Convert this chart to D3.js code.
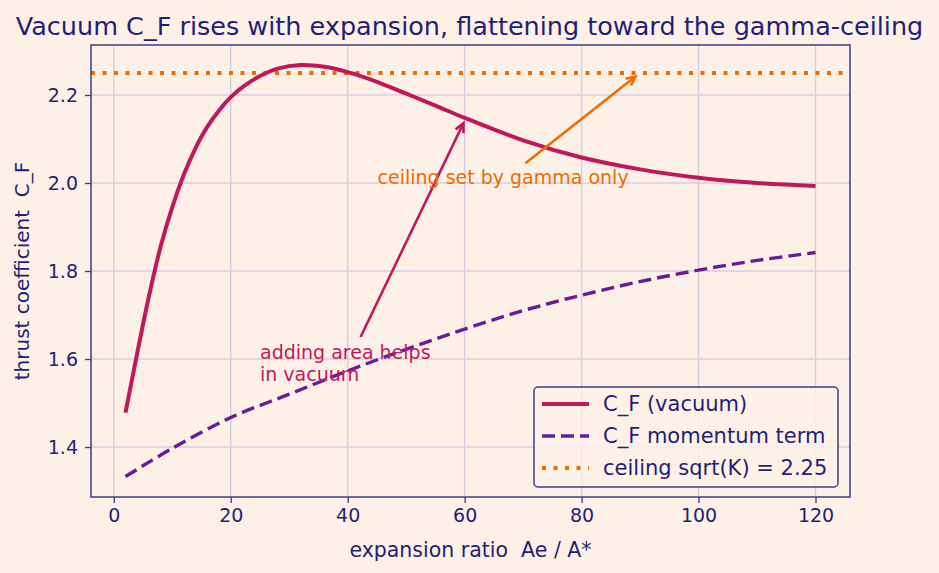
<!DOCTYPE html>
<html>
<head>
<meta charset="utf-8">
<script src="https://cdn.jsdelivr.net/npm/d3@7"></script>
<style>
  body { margin: 0; background: #fdf1e7; }
  svg { display: block; font-family: "DejaVu Sans", sans-serif; }
</style>
</head>
<body>
<div id="chart"></div>
<script>
/* DATA */
const vacX = [2, 4, 6, 8, 10, 12, 14, 16, 18, 20, 22, 25, 28, 32, 36, 40, 45, 50, 55, 60, 70, 80, 90, 100, 110, 120];
const vacY = [1.478, 1.613, 1.742, 1.855, 1.945, 2.02, 2.08, 2.128, 2.165, 2.195, 2.218, 2.243, 2.26, 2.268, 2.264, 2.252, 2.23, 2.203, 2.176, 2.148, 2.097, 2.058, 2.031, 2.012, 2.0, 1.993];
const momX = [2, 10, 20, 30, 40, 50, 60, 70, 80, 90, 100, 110, 120];
const momY = [1.333, 1.397, 1.467, 1.52, 1.573, 1.622, 1.668, 1.71, 1.745, 1.776, 1.802, 1.824, 1.842];
const ceiling = 2.25;
const xTicks = [0, 20, 40, 60, 80, 100, 120];
const yTicks = [1.4, 1.6, 1.8, 2.0, 2.2];
const legendLabels = ["C_F (vacuum)", "C_F momentum term", "ceiling sqrt(K) = 2.25"];
// annotations: text lines, text anchor (data), arrow start and tip (data)
const notes = [
  { lines: ["adding area helps", "in vacuum"], tx: 25, ty: 1.55, sx: 42.2, sy: 1.65, ex: 59.8, ey: 2.136, color: "#c2185b" },
  { lines: ["ceiling set by gamma only"], tx: 45.1, ty: 1.997, sx: 70.4, sy: 2.045, ex: 89.2, ey: 2.242, color: "#ef6c00" }
];

/* CONSTANTS */
const width = 939, height = 573;
const margin = { top: 45, bottom: 76, left: 91, right: 89 };
const ink = "#1f1f75", spine = "#3b3b86", gridCol = "#dacbe0";
const red = "#c2185b", purple = "#6a1b9a", orange = "#ef6c00";

const svg = d3.select("#chart").append("svg")
  .attr("width", width)
  .attr("height", height);

svg.append("rect").attr("width", width).attr("height", height).attr("fill", "#fdf1e7");

const xScale = d3.scaleLinear()
  .domain([-3.9, 125.9])
  .range([margin.left, width - margin.right]);

const yScale = d3.scaleLinear()
  .domain([1.2864, 2.3136])
  .range([height - margin.bottom, margin.top]);

// grid
svg.append("g").selectAll("line").data(xTicks).join("line")
  .attr("x1", d => xScale(d)).attr("x2", d => xScale(d))
  .attr("y1", margin.top).attr("y2", height - margin.bottom)
  .attr("stroke", gridCol).attr("stroke-width", 1.4);
svg.append("g").selectAll("line").data(yTicks).join("line")
  .attr("y1", d => yScale(d)).attr("y2", d => yScale(d))
  .attr("x1", margin.left).attr("x2", width - margin.right)
  .attr("stroke", gridCol).attr("stroke-width", 1.4);

// axes
const xAxis = d3.axisBottom(xScale).tickValues(xTicks).tickFormat(d3.format("d")).tickSize(6).tickPadding(6);
const yAxis = d3.axisLeft(yScale).tickValues(yTicks).tickFormat(d3.format(".1f")).tickSize(6).tickPadding(7);

const gx = svg.append("g")
  .attr("transform", `translate(0, ${height - margin.bottom})`)
  .call(xAxis);
const gy = svg.append("g")
  .attr("transform", `translate(${margin.left}, 0)`)
  .call(yAxis);
[gx, gy].forEach(g => {
  g.select(".domain").remove();
  g.selectAll("line").attr("stroke", spine).attr("stroke-width", 1.3);
  g.selectAll("text").attr("fill", ink).attr("font-size", 19).attr("font-family", "DejaVu Sans");
});

// lines
const line = d3.line()
  .x(d => xScale(d[0]))
  .y(d => yScale(d[1]))
  .curve(d3.curveCatmullRom);

svg.append("line")
  .attr("x1", margin.left).attr("x2", width - margin.right)
  .attr("y1", yScale(ceiling)).attr("y2", yScale(ceiling))
  .attr("stroke", orange).attr("stroke-width", 4)
  .attr("stroke-dasharray", "4,7.5");

svg.append("path")
  .datum(d3.zip(momX, momY))
  .attr("d", line)
  .attr("fill", "none").attr("stroke", purple).attr("stroke-width", 3.4)
  .attr("stroke-dasharray", "13,6");

svg.append("path")
  .datum(d3.zip(vacX, vacY))
  .attr("d", line)
  .attr("fill", "none").attr("stroke", red).attr("stroke-width", 4);

// spines
svg.append("rect")
  .attr("x", margin.left).attr("y", margin.top)
  .attr("width", width - margin.left - margin.right)
  .attr("height", height - margin.top - margin.bottom)
  .attr("fill", "none").attr("stroke", spine).attr("stroke-width", 1.5);

// annotations
notes.forEach(n => {
  const x0 = xScale(n.sx), y0 = yScale(n.sy), x1 = xScale(n.ex), y1 = yScale(n.ey);
  const ang = Math.atan2(y1 - y0, x1 - x0);
  const hl = 10, hw = 0.45;
  const g = svg.append("g").attr("stroke", n.color).attr("stroke-width", 2.6).attr("fill", "none");
  g.append("line").attr("x1", x0).attr("y1", y0).attr("x2", x1).attr("y2", y1);
  g.append("path")
    .attr("d", `M${x1 - hl * Math.cos(ang - hw)},${y1 - hl * Math.sin(ang - hw)}L${x1},${y1}L${x1 - hl * Math.cos(ang + hw)},${y1 - hl * Math.sin(ang + hw)}`);
  const t = svg.append("text")
    .attr("x", xScale(n.tx))
    .attr("y", yScale(n.ty) - (n.lines.length - 1) * 22)
    .attr("fill", n.color).attr("font-size", 19);
  n.lines.forEach((l, i) => {
    t.append("tspan").attr("x", xScale(n.tx)).attr("dy", i ? 22 : 0).text(l);
  });
});

// legend
const lg = svg.append("g");
lg.append("rect")
  .attr("x", 534).attr("y", 387).attr("width", 304).attr("height", 100).attr("rx", 4)
  .attr("fill", "#fdf1e7").attr("fill-opacity", 0.85)
  .attr("stroke", spine).attr("stroke-width", 1.5);
const legStyles = [
  { color: red, w: 4, dash: null },
  { color: purple, w: 3.4, dash: "13,6" },
  { color: orange, w: 4, dash: "4,7.5" }
];
legendLabels.forEach((lab, i) => {
  const cy = 404 + i * 32;
  lg.append("line")
    .attr("x1", 542).attr("x2", 589).attr("y1", cy).attr("y2", cy)
    .attr("stroke", legStyles[i].color).attr("stroke-width", legStyles[i].w)
    .attr("stroke-dasharray", legStyles[i].dash);
  lg.append("text")
    .attr("x", 603).attr("y", cy).attr("dy", "0.35em")
    .attr("fill", ink).attr("font-size", 21).text(lab);
});

// title and labels
svg.append("text")
  .attr("x", width / 2).attr("y", 35)
  .attr("text-anchor", "middle").attr("fill", ink).attr("font-size", 25.5)
  .text("Vacuum C_F rises with expansion, flattening toward the gamma-ceiling");

svg.append("text")
  .attr("x", (margin.left + width - margin.right) / 2).attr("y", 557)
  .attr("text-anchor", "middle").attr("fill", ink).attr("font-size", 20.5)
  .attr("xml:space", "preserve")
  .text("expansion ratio  Ae / A*");

svg.append("text")
  .attr("transform", `translate(29, ${(margin.top + height - margin.bottom) / 2}) rotate(-90)`)
  .attr("text-anchor", "middle").attr("fill", ink).attr("font-size", 20)
  .attr("xml:space", "preserve")
  .text("thrust coefficient  C_F");
</script>
</body>
</html>
